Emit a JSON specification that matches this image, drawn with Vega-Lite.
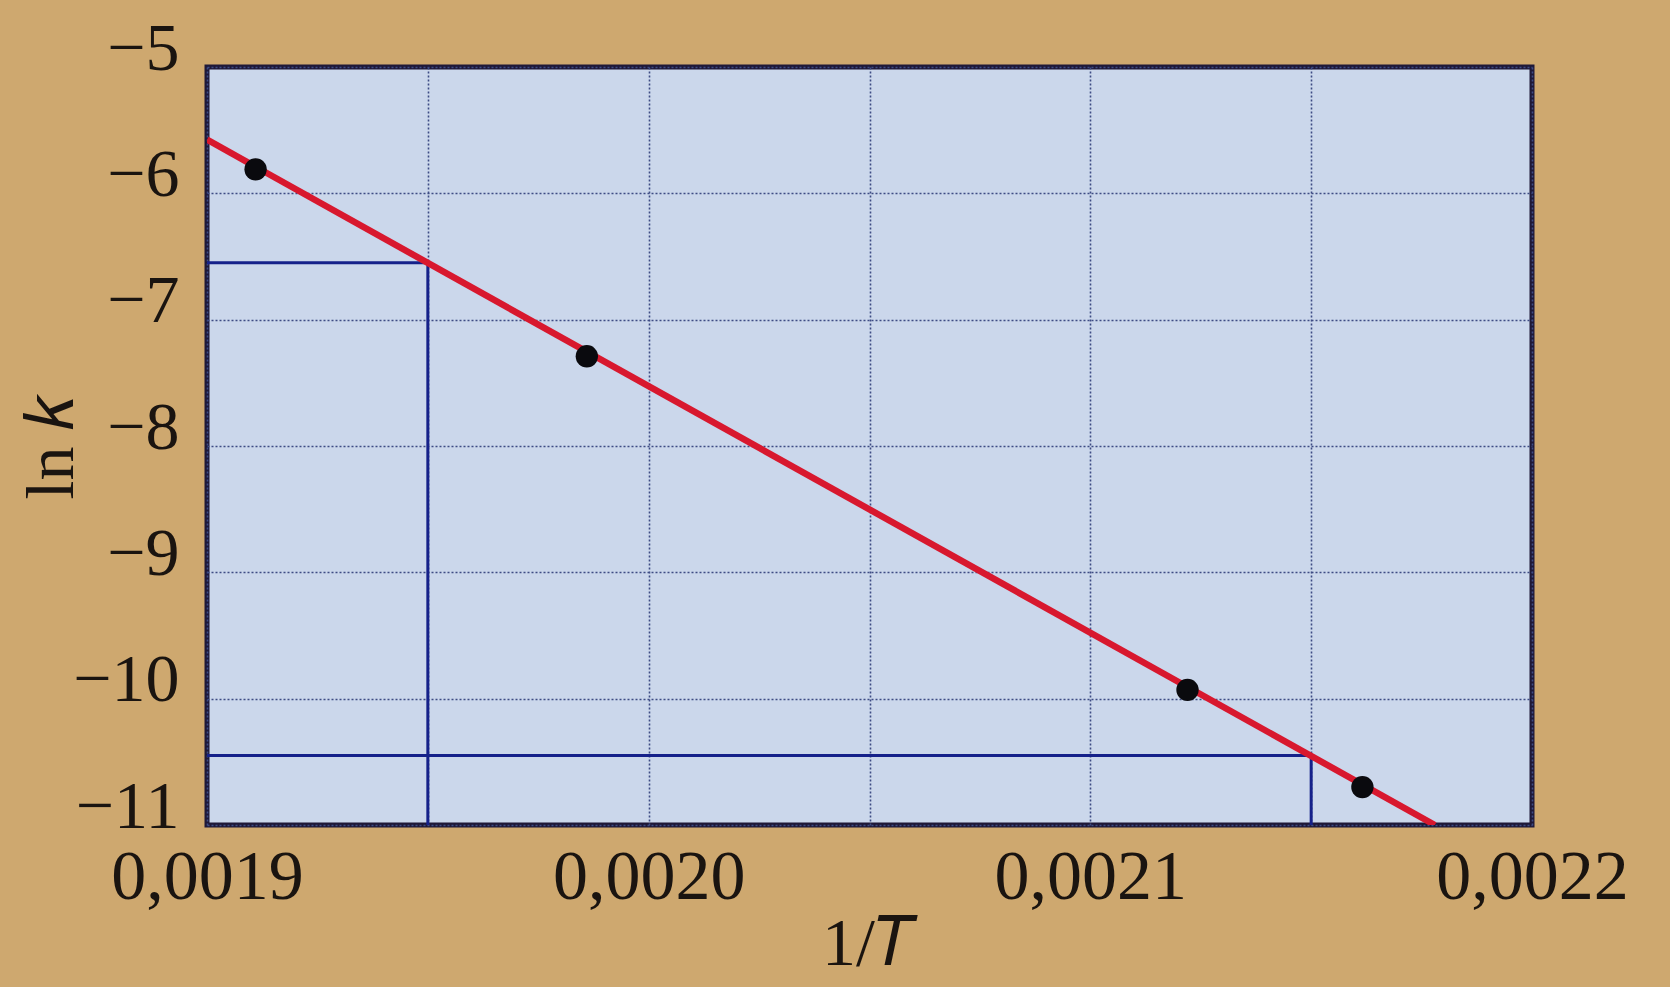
{
  "$schema": "https://vega.github.io/schema/vega-lite/v6.json",
  "width": 1325,
  "height": 758,
  "autosize": "none",
  "padding": {"left": 207, "top": 67, "right": 138, "bottom": 162},
  "background": "#cea86f",
  "config": {
    "font": "Liberation Serif",
    "view": {"fill": "#cbd7eb", "stroke": "#1e1838", "strokeWidth": 5}
  },
  "datasets": {
    "measured": [
      {"x": 0.001911, "y": -5.81},
      {"x": 0.001986, "y": -7.29},
      {"x": 0.002122, "y": -9.93},
      {"x": 0.0021616, "y": -10.70}
    ],
    "fit": [
      {"x": 0.0019, "y": -5.575},
      {"x": 0.002178, "y": -11.0}
    ],
    "slope": [
      {"x": 0.0019, "x2": 0.00195, "y": -6.55, "y2": -6.55},
      {"x": 0.00195, "x2": 0.00195, "y": -6.55, "y2": -11.0},
      {"x": 0.0019, "x2": 0.00215, "y": -10.45, "y2": -10.45},
      {"x": 0.00215, "x2": 0.00215, "y": -10.45, "y2": -11.0}
    ]
  },
  "encoding": {
    "x": {
      "field": "x",
      "type": "quantitative",
      "scale": {"domain": [0.0019, 0.0022], "nice": false, "zero": false},
      "axis": {
        "values": [0.0019, 0.00195, 0.002, 0.00205, 0.0021, 0.00215, 0.0022],
        "labelExpr": "abs(datum.value * 10000 - round(datum.value * 10000)) < 0.01 ? replace(format(datum.value, '.4f'), '.', ',') : ''",
        "ticks": false,
        "domain": false,
        "grid": true,
        "gridColor": "#3e4c84",
        "gridWidth": 1.6,
        "gridDash": [2, 2],
        "labelFontSize": 70,
        "labelColor": "#1a1410",
        "labelPadding": 18,
        "labelLimit": 0,
        "labelFlush": false,
        "labelOverlap": false,
        "title": "1/𝑇",
        "titleFontSize": 68,
        "titleFontWeight": "normal",
        "titleColor": "#1a1410",
        "titlePadding": -2
      }
    },
    "y": {
      "field": "y",
      "type": "quantitative",
      "scale": {"domain": [-11, -5], "nice": false, "zero": false},
      "axis": {
        "values": [-11, -10, -9, -8, -7, -6, -5],
        "labelExpr": "replace(format(datum.value, 'd'), '-', '−')",
        "ticks": false,
        "domain": false,
        "grid": true,
        "gridColor": "#3e4c84",
        "gridWidth": 1.6,
        "gridDash": [2, 2],
        "labelFontSize": 68,
        "labelColor": "#1a1410",
        "labelPadding": 28,
        "labelOffset": -18,
        "labelLimit": 0,
        "labelOverlap": false,
        "title": "ln 𝑘",
        "titleFontSize": 68,
        "titleFontWeight": "normal",
        "titleColor": "#1a1410",
        "titlePadding": -14
      }
    }
  },
  "layer": [
    {
      "data": {"name": "slope"},
      "mark": {"type": "rule", "color": "#15218a", "strokeWidth": 3},
      "encoding": {
        "x2": {"field": "x2"},
        "y2": {"field": "y2"}
      }
    },
    {
      "data": {"name": "fit"},
      "mark": {"type": "line", "color": "#d8182e", "strokeWidth": 6.5, "clip": true},
      "encoding": {}
    },
    {
      "data": {"name": "measured"},
      "mark": {"type": "point", "filled": true, "color": "#0a0a0e", "opacity": 1, "size": 500},
      "encoding": {}
    }
  ]
}
